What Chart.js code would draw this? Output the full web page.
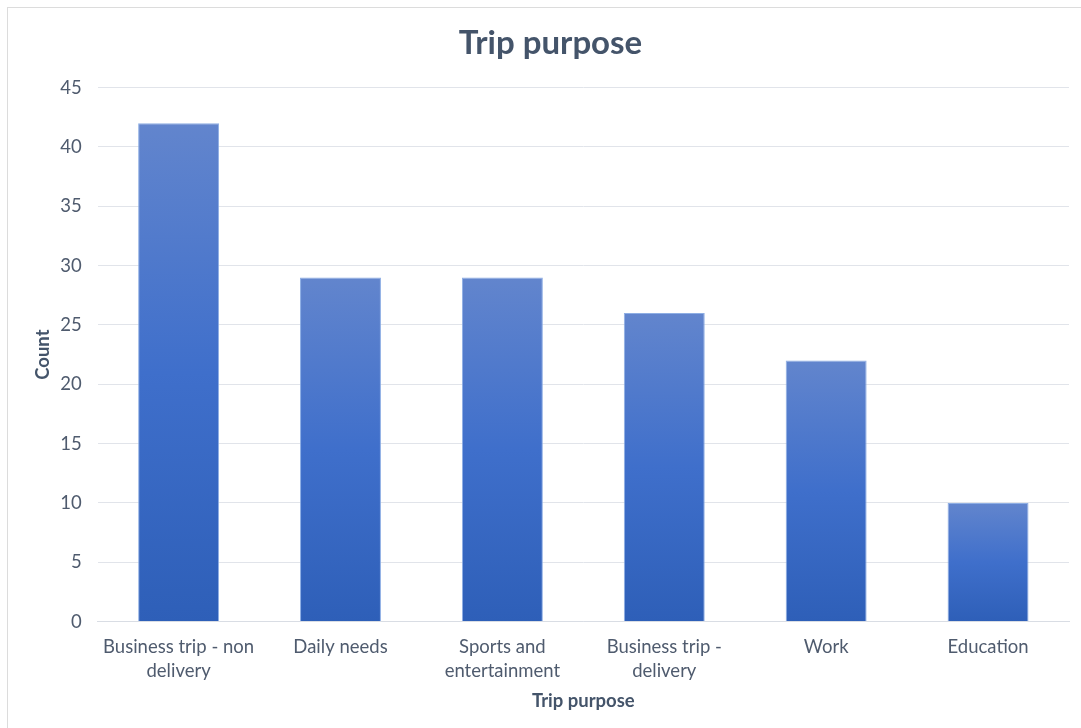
<!DOCTYPE html>
<html>
<head>
<meta charset="utf-8">
<script src="https://cdn.jsdelivr.net/npm/chart.js@4"></script>
<style>
  html, body { margin: 0; padding: 0; background: #fff; }
  #frame {
    position: absolute; left: 7px; top: 7px; width: 1074px; height: 721px;
    border-top: 1px solid #dcdcdc; border-left: 1px solid #dcdcdc;
  }
  #wrap { position: absolute; left: -8px; top: -8px; width: 1081px; height: 728px; }
</style>
</head>
<body>
<div id="frame"><div id="wrap"><canvas id="tripChart" width="1081" height="728"></canvas></div></div>
<script>
const categories = [
  ["Business trip - non", "delivery"],
  "Daily needs",
  ["Sports and", "entertainment"],
  ["Business trip -", "delivery"],
  "Work",
  "Education"
];
const counts = [42, 29, 29, 26, 22, 10];

const textColor = "#4f5b6e";
const titleColor = "#44546a";
const gridColor = "#e1e4ea";

// each bar gets its own light-to-dark fill, top to bottom
function barFill(ctx) {
  const chart = ctx.chart;
  const y = chart.scales.y;
  if (!y || !ctx.parsed) return "#3f6fcb";
  const top = y.getPixelForValue(ctx.parsed.y);
  const bottom = y.getPixelForValue(0);
  if (!isFinite(top) || !isFinite(bottom) || top === bottom) return "#3f6fcb";
  const g = chart.ctx.createLinearGradient(0, top, 0, bottom);
  g.addColorStop(0, "#6285cd");
  g.addColorStop(0.5, "#3f6fcb");
  g.addColorStop(1, "#2e5fb8");
  return g;
}

new Chart(document.getElementById("tripChart"), {
  type: "bar",
  data: {
    labels: categories,
    datasets: [{
      data: counts,
      backgroundColor: barFill,
      borderColor: "rgba(130,165,225,0.9)",
      borderWidth: 1,
      categoryPercentage: 1,
      barPercentage: 0.5
    }]
  },
  options: {
    responsive: false,
    animation: false,
    layout: { padding: { left: 32, right: 12, top: 10, bottom: 16 } },
    plugins: {
      legend: { display: false },
      tooltip: { enabled: false },
      title: {
        display: true,
        text: "Trip purpose",
        color: titleColor,
        font: { family: "Lato", size: 33, weight: "bold", lineHeight: 1.2 },
        padding: { top: 14, bottom: 24 }
      }
    },
    scales: {
      x: {
        grid: { display: false, drawTicks: false },
        border: { color: "#d9dde4" },
        ticks: {
          color: textColor,
          font: { family: "Lato", size: 18.5, lineHeight: 1.33 },
          padding: 13,
          maxRotation: 0,
          autoSkip: false
        },
        title: {
          display: true,
          text: "Trip purpose",
          color: titleColor,
          font: { family: "Lato", size: 18.5, weight: "bold", lineHeight: 1.2 },
          padding: { top: -7, bottom: 0 }
        }
      },
      y: {
        min: 0,
        max: 45,
        ticks: {
          stepSize: 5,
          color: textColor,
          font: { family: "Lato", size: 18.5 },
          padding: 16
        },
        grid: { color: gridColor, drawTicks: false },
        border: { display: false },
        title: {
          display: true,
          text: "Count",
          color: titleColor,
          font: { family: "Lato", size: 18.5, weight: "bold", lineHeight: 1.2 },
          padding: { top: 0, bottom: -10 }
        }
      }
    }
  }
});
</script>
</body>
</html>
